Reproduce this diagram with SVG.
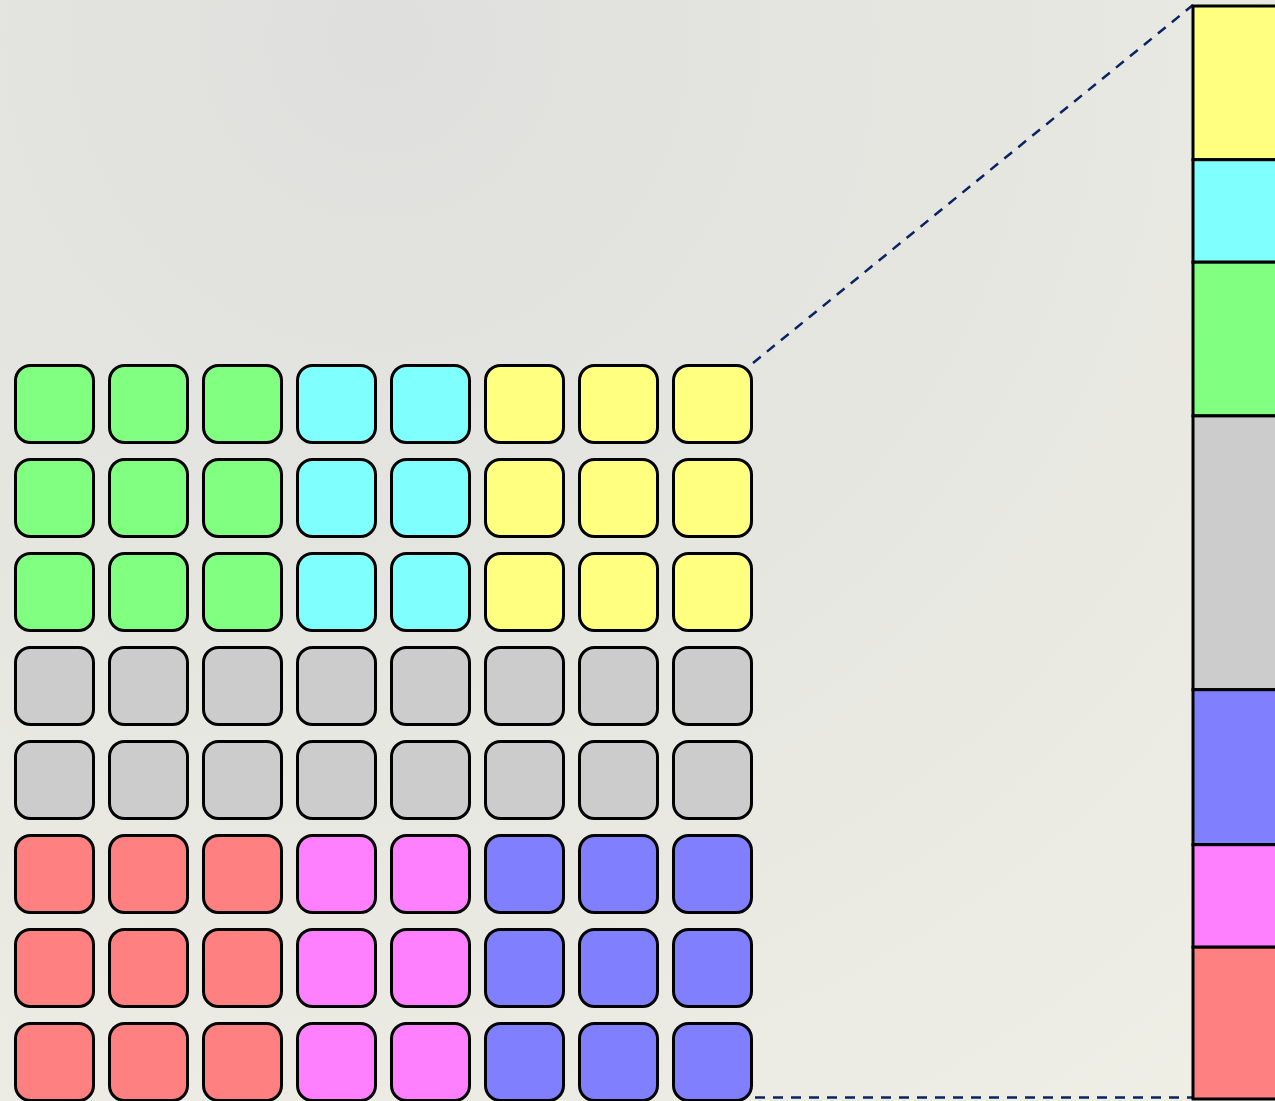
<svg xmlns="http://www.w3.org/2000/svg" width="1275" height="1101" viewBox="0 0 1275 1101">
<defs>
<radialGradient id="bg" cx="380" cy="40" r="1300" gradientUnits="userSpaceOnUse">
<stop offset="0" stop-color="#dfdfdd"/>
<stop offset="1" stop-color="#eeeee5"/>
</radialGradient>
<style>
.t{stroke:#000;stroke-width:3}
.b{stroke:#000;stroke-width:3}
.g{fill:#80ff80}.c{fill:#80ffff}.y{fill:#ffff80}.k{fill:#cccccc}.r{fill:#ff8080}.m{fill:#ff80ff}.u{fill:#8080ff}
.d{stroke:#0a2463;stroke-width:2.5;stroke-dasharray:10 8;fill:none}
</style>
<symbol id="tile" overflow="visible"><rect x="0" y="0" width="78" height="77" rx="15" ry="15"/></symbol>
</defs>
<rect width="1275" height="1101" fill="url(#bg)"/>
<g id="connectors">
<line class="d" x1="753" y1="363" x2="1193" y2="5"/>
<line class="d" x1="755" y1="1097.5" x2="1193" y2="1097.5"/>
</g>
<g id="grid">
<g id="row0">
<rect class="t g" x="15.5" y="365.5" width="78" height="77" rx="15"/>
<rect class="t g" x="109.5" y="365.5" width="78" height="77" rx="15"/>
<rect class="t g" x="203.5" y="365.5" width="78" height="77" rx="15"/>
<rect class="t c" x="297.5" y="365.5" width="78" height="77" rx="15"/>
<rect class="t c" x="391.5" y="365.5" width="78" height="77" rx="15"/>
<rect class="t y" x="485.5" y="365.5" width="78" height="77" rx="15"/>
<rect class="t y" x="579.5" y="365.5" width="78" height="77" rx="15"/>
<rect class="t y" x="673.5" y="365.5" width="78" height="77" rx="15"/>
</g>
<g id="row1">
<rect class="t g" x="15.5" y="459.5" width="78" height="77" rx="15"/>
<rect class="t g" x="109.5" y="459.5" width="78" height="77" rx="15"/>
<rect class="t g" x="203.5" y="459.5" width="78" height="77" rx="15"/>
<rect class="t c" x="297.5" y="459.5" width="78" height="77" rx="15"/>
<rect class="t c" x="391.5" y="459.5" width="78" height="77" rx="15"/>
<rect class="t y" x="485.5" y="459.5" width="78" height="77" rx="15"/>
<rect class="t y" x="579.5" y="459.5" width="78" height="77" rx="15"/>
<rect class="t y" x="673.5" y="459.5" width="78" height="77" rx="15"/>
</g>
<g id="row2">
<rect class="t g" x="15.5" y="553.5" width="78" height="77" rx="15"/>
<rect class="t g" x="109.5" y="553.5" width="78" height="77" rx="15"/>
<rect class="t g" x="203.5" y="553.5" width="78" height="77" rx="15"/>
<rect class="t c" x="297.5" y="553.5" width="78" height="77" rx="15"/>
<rect class="t c" x="391.5" y="553.5" width="78" height="77" rx="15"/>
<rect class="t y" x="485.5" y="553.5" width="78" height="77" rx="15"/>
<rect class="t y" x="579.5" y="553.5" width="78" height="77" rx="15"/>
<rect class="t y" x="673.5" y="553.5" width="78" height="77" rx="15"/>
</g>
<g id="row3">
<rect class="t k" x="15.5" y="647.5" width="78" height="77" rx="15"/>
<rect class="t k" x="109.5" y="647.5" width="78" height="77" rx="15"/>
<rect class="t k" x="203.5" y="647.5" width="78" height="77" rx="15"/>
<rect class="t k" x="297.5" y="647.5" width="78" height="77" rx="15"/>
<rect class="t k" x="391.5" y="647.5" width="78" height="77" rx="15"/>
<rect class="t k" x="485.5" y="647.5" width="78" height="77" rx="15"/>
<rect class="t k" x="579.5" y="647.5" width="78" height="77" rx="15"/>
<rect class="t k" x="673.5" y="647.5" width="78" height="77" rx="15"/>
</g>
<g id="row4">
<rect class="t k" x="15.5" y="741.5" width="78" height="77" rx="15"/>
<rect class="t k" x="109.5" y="741.5" width="78" height="77" rx="15"/>
<rect class="t k" x="203.5" y="741.5" width="78" height="77" rx="15"/>
<rect class="t k" x="297.5" y="741.5" width="78" height="77" rx="15"/>
<rect class="t k" x="391.5" y="741.5" width="78" height="77" rx="15"/>
<rect class="t k" x="485.5" y="741.5" width="78" height="77" rx="15"/>
<rect class="t k" x="579.5" y="741.5" width="78" height="77" rx="15"/>
<rect class="t k" x="673.5" y="741.5" width="78" height="77" rx="15"/>
</g>
<g id="row5">
<rect class="t r" x="15.5" y="835.5" width="78" height="77" rx="15"/>
<rect class="t r" x="109.5" y="835.5" width="78" height="77" rx="15"/>
<rect class="t r" x="203.5" y="835.5" width="78" height="77" rx="15"/>
<rect class="t m" x="297.5" y="835.5" width="78" height="77" rx="15"/>
<rect class="t m" x="391.5" y="835.5" width="78" height="77" rx="15"/>
<rect class="t u" x="485.5" y="835.5" width="78" height="77" rx="15"/>
<rect class="t u" x="579.5" y="835.5" width="78" height="77" rx="15"/>
<rect class="t u" x="673.5" y="835.5" width="78" height="77" rx="15"/>
</g>
<g id="row6">
<rect class="t r" x="15.5" y="929.5" width="78" height="77" rx="15"/>
<rect class="t r" x="109.5" y="929.5" width="78" height="77" rx="15"/>
<rect class="t r" x="203.5" y="929.5" width="78" height="77" rx="15"/>
<rect class="t m" x="297.5" y="929.5" width="78" height="77" rx="15"/>
<rect class="t m" x="391.5" y="929.5" width="78" height="77" rx="15"/>
<rect class="t u" x="485.5" y="929.5" width="78" height="77" rx="15"/>
<rect class="t u" x="579.5" y="929.5" width="78" height="77" rx="15"/>
<rect class="t u" x="673.5" y="929.5" width="78" height="77" rx="15"/>
</g>
<g id="row7">
<rect class="t r" x="15.5" y="1023.5" width="78" height="77" rx="15"/>
<rect class="t r" x="109.5" y="1023.5" width="78" height="77" rx="15"/>
<rect class="t r" x="203.5" y="1023.5" width="78" height="77" rx="15"/>
<rect class="t m" x="297.5" y="1023.5" width="78" height="77" rx="15"/>
<rect class="t m" x="391.5" y="1023.5" width="78" height="77" rx="15"/>
<rect class="t u" x="485.5" y="1023.5" width="78" height="77" rx="15"/>
<rect class="t u" x="579.5" y="1023.5" width="78" height="77" rx="15"/>
<rect class="t u" x="673.5" y="1023.5" width="78" height="77" rx="15"/>
</g>
</g>
<g id="bar">
<rect class="b y" x="1193" y="6" width="100" height="153.7"/>
<rect class="b c" x="1193" y="159.7" width="100" height="102.5"/>
<rect class="b g" x="1193" y="262.2" width="100" height="153.7"/>
<rect class="b k" x="1193" y="415.9" width="100" height="273.8"/>
<rect class="b u" x="1193" y="689.7" width="100" height="155"/>
<rect class="b m" x="1193" y="844.7" width="100" height="102.5"/>
<rect class="b r" x="1193" y="947.2" width="100" height="151.8"/>
</g>
</svg>
